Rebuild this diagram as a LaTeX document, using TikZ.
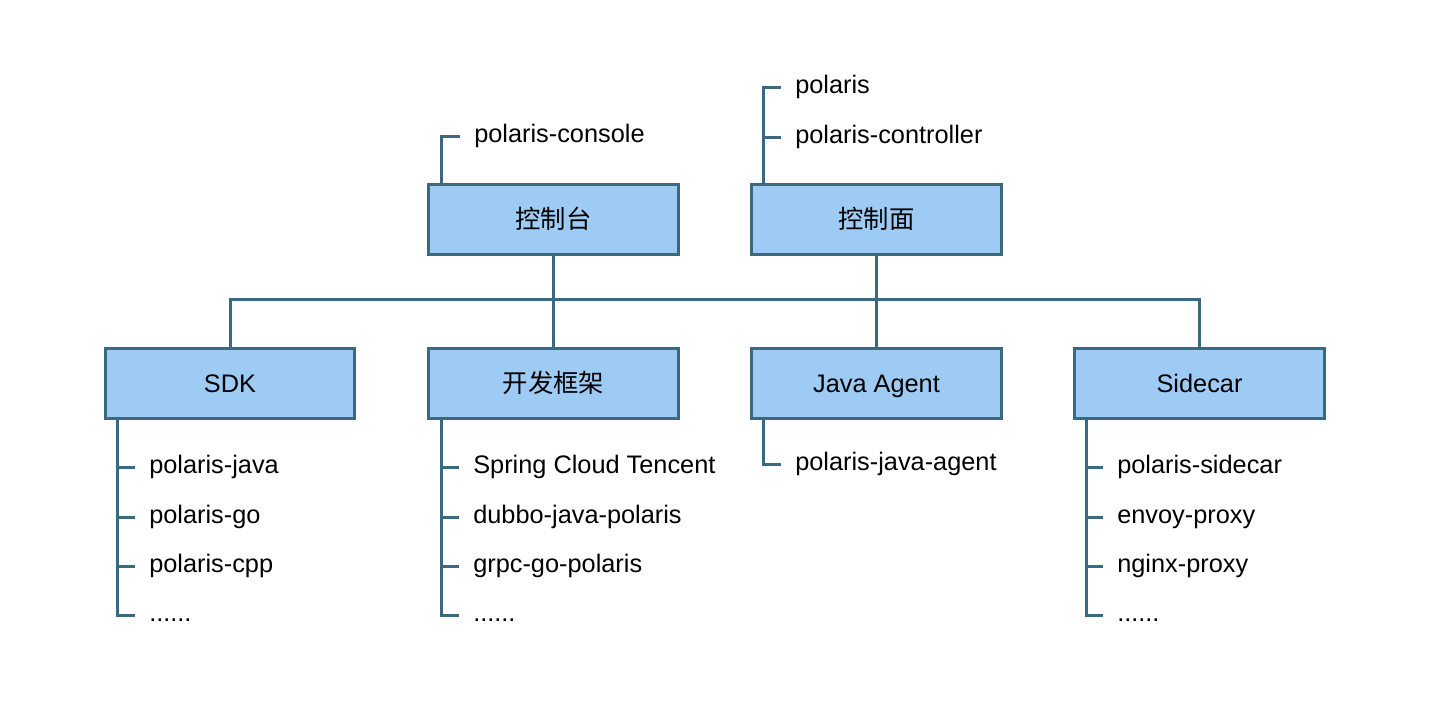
\documentclass[tikz,border=0pt]{standalone}
\usepackage{fontspec}
\setmainfont{Liberation Sans}
\newfontfamily\cjk{Noto Sans CJK SC}
\usetikzlibrary{positioning}
\definecolor{boxfill}{RGB}{158,203,244}
\definecolor{linkcol}{RGB}{59,106,128}
\tikzset{
  module/.style={draw=linkcol, fill=boxfill, line width=2.25pt, minimum width=187pt, minimum height=52pt, inner sep=0pt, text height=17pt, text depth=3pt, font=\fontsize{19}{23}\selectfont},
  item/.style={anchor=west, inner sep=0pt, inner xsep=10.5pt, text height=13.5pt, text depth=4pt, font=\fontsize{19}{23}\selectfont},
  link/.style={draw=linkcol, line width=2.25pt}
}
\begin{document}
\begin{tikzpicture}[x=0.75pt,y=0.75pt,yscale=-1,xscale=1]
\useasboundingbox (0,0) rectangle (1438,718);

% modules
\node[module] (console) at (553.5,219.5) {\cjk 控制台};
\node[module] (control) at (876.5,219.5) {\cjk 控制面};
\node[module] (sdk) at (230,383.5) {SDK};
\node[module] (frame) at (553.5,383.5) {\cjk 开发框架};
\node[module] (agent) at (876.5,383.5) {Java Agent};
\node[module] (sidecar) at (1199.5,383.5) {Sidecar};

% bus
\draw[link] (console.south) -- (frame.north);
\draw[link] (control.south) -- (agent.north);
\draw[link] (sdk.north) -- ++(0,-48) -| (sidecar.north);

% console / control items
\node[item] (cs1) at (460,136) {polaris-console};
\node[item] (cp1) at (781,87) {polaris};
\node[item] (cp2) at (781,137) {polaris-controller};
\coordinate (cst) at (441,184);
\coordinate (cpt) at (763,184);
\draw[link] (cst) |- (cs1.west);
\draw[link] (cpt) |- (cp1.west);
\draw[link] (cp2.west) -- (cp2.west -| cpt);

% sdk items
\node[item] (sd1) at (135,467) {polaris-java};
\node[item] (sd2) at (135,517) {polaris-go};
\node[item] (sd3) at (135,566) {polaris-cpp};
\node[item] (sd4) at (135,615) {......};
\coordinate (sdt) at (117,419);
\draw[link] (sdt) |- (sd4.west);
\foreach \n in {sd1,sd2,sd3} \draw[link] (\n.west) -- (\n.west -| sdt);

% framework items
\node[item] (fr1) at (459,467) {Spring Cloud Tencent};
\node[item] (fr2) at (459,517) {dubbo-java-polaris};
\node[item] (fr3) at (459,566) {grpc-go-polaris};
\node[item] (fr4) at (459,615) {......};
\coordinate (frt) at (441,419);
\draw[link] (frt) |- (fr4.west);
\foreach \n in {fr1,fr2,fr3} \draw[link] (\n.west) -- (\n.west -| frt);

% agent items
\node[item] (ag1) at (781,464) {polaris-java-agent};
\coordinate (agt) at (763,419);
\draw[link] (agt) |- (ag1.west);

% sidecar items
\node[item] (sc1) at (1103,467) {polaris-sidecar};
\node[item] (sc2) at (1103,517) {envoy-proxy};
\node[item] (sc3) at (1103,566) {nginx-proxy};
\node[item] (sc4) at (1103,615) {......};
\coordinate (sct) at (1086,419);
\draw[link] (sct) |- (sc4.west);
\foreach \n in {sc1,sc2,sc3} \draw[link] (\n.west) -- (\n.west -| sct);

\end{tikzpicture}
\end{document}
